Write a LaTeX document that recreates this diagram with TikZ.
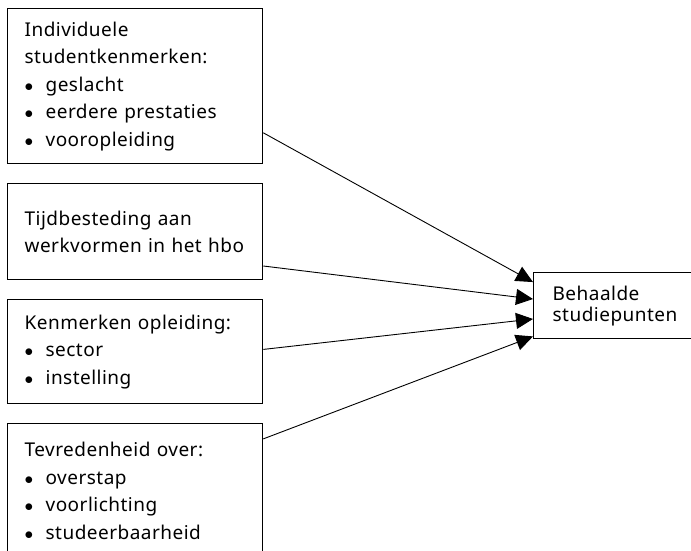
\documentclass[tikz,border=0pt]{standalone}
\usepackage{fontspec}
\setmainfont[LetterSpace = 2.5]{Noto Sans}
\usetikzlibrary{arrows.meta}

\newcommand{\bul}[1]{\makebox[21pt][l]{$\bullet$}#1}

\begin{document}
\begin{tikzpicture}[x = 1pt, y = -1pt, >= {Triangle[length = 17pt, width = 16pt]},
    kader/.style = {draw = black, line width = 1.3pt, anchor = north west, align = left,
        inner xsep = 17pt, minimum width = 255pt, text width = 221pt,
        font = \fontsize{19}{27.5}\selectfont},
    pijl/.style = {->, line width = .9pt}]
    \useasboundingbox (0, 0) rectangle (691, 550);

    \node [kader, minimum height = 155pt] (indiv) at (7, 8)
        {Individuele\\studentkenmerken:\\ \bul{geslacht}\\ \bul{eerdere prestaties}\\ \bul{vooropleiding}};
    \node [kader, minimum height = 96pt] (tijd) at (7, 183)
        {Tijdbesteding aan\\werkvormen in het hbo};
    \node [kader, minimum height = 104pt] (opl) at (7, 299)
        {Kenmerken opleiding:\\ \bul{sector}\\ \bul{instelling}};
    \node [kader, minimum height = 134pt] (tevr) at (7, 423)
        {Tevredenheid over:\\ \bul{overstap}\\ \bul{voorlichting}\\ \bul{studeerbaarheid}};

    %%%%%%%%%%%%%%%%%%%%
    \node [kader, minimum height = 66pt, inner xsep = 19pt, text width = 150pt, minimum width = 188pt,
        font = \fontsize{19}{21}\selectfont] (punten) at (533, 272)
        {Behaalde\\studiepunten};

    \draw [pijl] (indiv.-20) -- (punten.166.8);
    \draw [pijl] (tijd.-15.8) -- (punten.176.3);
    \draw [pijl] (opl.1.35) -- (punten.188.5);
    \draw [pijl] (tevr.22.2) -- (punten.198.3);
\end{tikzpicture}
\end{document}
